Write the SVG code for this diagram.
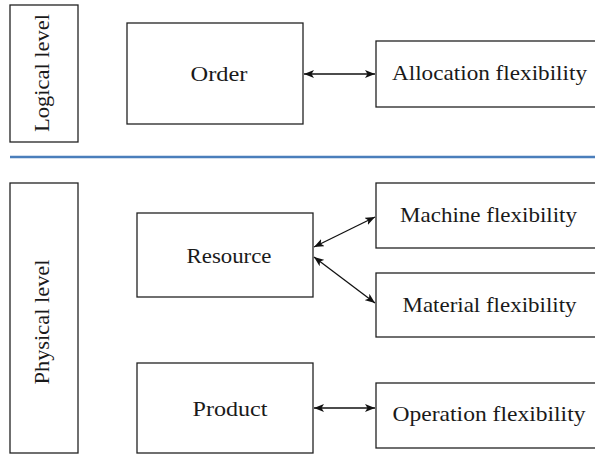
<svg xmlns="http://www.w3.org/2000/svg" width="595" height="454" viewBox="0 0 595 454">
  <style>
    .box { fill: #ffffff; stroke: #222222; stroke-width: 1.3; }
    .link { stroke: #111111; stroke-width: 1.3; fill: none; marker-start: url(#head); marker-end: url(#head); }
    .divider { stroke: #4a7ebb; stroke-width: 2.5; }
  </style>
  <defs>
    <marker id="head" viewBox="0 0 10 8" refX="10" refY="4" markerWidth="10" markerHeight="8" markerUnits="userSpaceOnUse" orient="auto-start-reverse">
      <path d="M0,0 L10,4 L0,8 L2.5,4 Z" fill="#111111"/>
    </marker>
  </defs>

  <rect width="595" height="454" fill="#ffffff"/>

  <!-- level separator -->
  <line class="divider" x1="10" y1="157" x2="595" y2="157"/>

  <g font-family="'Liberation Serif', 'Times New Roman', serif" font-size="21" fill="#1a1a1a" text-anchor="middle">
    <!-- level labels -->
    <g id="logical-level">
      <rect class="box" x="10" y="5" width="68" height="137"/>
      <text transform="translate(49,73) rotate(-90)" textLength="118" lengthAdjust="spacingAndGlyphs">Logical level</text>
    </g>
    <g id="physical-level">
      <rect class="box" x="10" y="183" width="68" height="270"/>
      <text transform="translate(49,322) rotate(-90)" textLength="125" lengthAdjust="spacingAndGlyphs">Physical level</text>
    </g>

    <!-- entities -->
    <g id="order">
      <rect class="box" x="127" y="23" width="176" height="101"/>
      <text x="219" y="81" textLength="57" lengthAdjust="spacingAndGlyphs">Order</text>
    </g>
    <g id="resource">
      <rect class="box" x="137" y="213" width="176" height="84"/>
      <text x="229" y="263" textLength="85" lengthAdjust="spacingAndGlyphs">Resource</text>
    </g>
    <g id="product">
      <rect class="box" x="137" y="363" width="176" height="90"/>
      <text x="230" y="416" textLength="75" lengthAdjust="spacingAndGlyphs">Product</text>
    </g>

    <!-- flexibility types -->
    <g id="allocation-flexibility">
      <rect class="box" x="376" y="41" width="220" height="66"/>
      <text x="489.5" y="80" textLength="195" lengthAdjust="spacingAndGlyphs">Allocation flexibility</text>
    </g>
    <g id="machine-flexibility">
      <rect class="box" x="376" y="183" width="220" height="65"/>
      <text x="488.5" y="221.5" textLength="177" lengthAdjust="spacingAndGlyphs">Machine flexibility</text>
    </g>
    <g id="material-flexibility">
      <rect class="box" x="376" y="273" width="220" height="64"/>
      <text x="489.5" y="311.5" textLength="174" lengthAdjust="spacingAndGlyphs">Material flexibility</text>
    </g>
    <g id="operation-flexibility">
      <rect class="box" x="376" y="383" width="220" height="65"/>
      <text x="489" y="421" textLength="193" lengthAdjust="spacingAndGlyphs">Operation flexibility</text>
    </g>
  </g>

  <!-- connectors -->
  <g id="connectors">
    <line class="link" x1="304" y1="74" x2="375" y2="74"/>
    <line class="link" x1="314" y1="247" x2="375" y2="217"/>
    <line class="link" x1="314" y1="257" x2="375" y2="303"/>
    <line class="link" x1="314" y1="408" x2="375" y2="408"/>
  </g>
</svg>
